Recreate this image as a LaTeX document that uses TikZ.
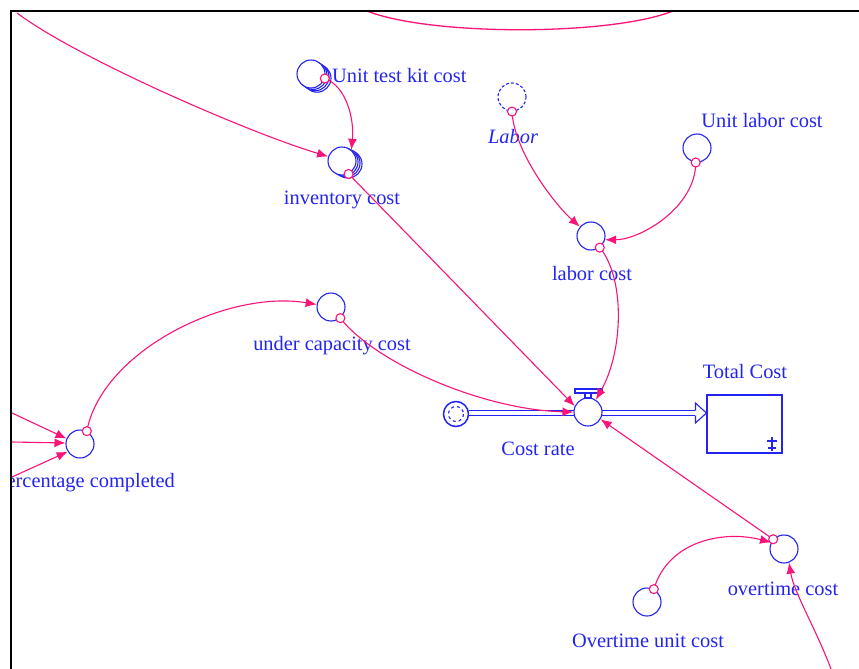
\documentclass[tikz,border=0pt]{standalone}
\usepackage{fontspec}
\setmainfont{Liberation Serif}
\usetikzlibrary{arrows.meta,calc}
\definecolor{vblue}{RGB}{36,36,240}
\definecolor{vpink}{RGB}{250,20,120}

\begin{document}
\begin{tikzpicture}[x=1pt,y=-1pt,
  every node/.style={font=\fontsize{20.4}{24}\selectfont, text=vblue},
  aux/.style={circle, draw=vblue, line width=1.1pt, minimum size=28pt, inner sep=0pt, fill=white},
  ghost/.style={aux, dash pattern=on 3pt off 2pt},
  stackc/.style={draw=vblue, line width=1.1pt, fill=white},
  lbl/.style={inner sep=0pt},
  link/.style={draw=vpink, line width=1.1pt, -{Latex[length=11pt,width=9pt]}},
  plain/.style={draw=vpink, line width=1.3pt},
  tailc/.style={draw=vpink, line width=1.1pt, fill=white},
  pipe/.style={draw=vblue, line width=1.1pt, double=white, double distance=4pt},
]
\useasboundingbox (0,0) rectangle (859,669);
\fill[white] (0,0) rectangle (859,669);

\begin{scope}
\clip (12,12) rectangle (859,669);

% array variables are drawn as a stack of circles
\foreach \d in {6,4,2} \draw[stackc] (311+\d,74+0.7*\d) circle (14);
\node[aux] (utk) at (311,74) {};
\foreach \d in {6,4,2} \draw[stackc] (342+\d,161+0.5*\d) circle (14);
\node[aux] (inv) at (342,161) {};

% auxiliaries
\node[ghost] (labor) at (512,97) {};
\node[aux] (ulc) at (697,148) {};
\node[aux] (lc) at (591,236) {};
\node[aux] (uc) at (331,307) {};
\node[aux] (pc) at (80,444) {};
\node[aux] (ot) at (784,549) {};
\node[aux] (otu) at (647,602) {};

% flow: source cloud, pipe, valve, stock
\node[circle, draw=vblue, line width=1.5pt, minimum size=25pt, inner sep=0pt] (cloud) at (456,414) {};
\draw[vblue, line width=1.1pt, dash pattern=on 3pt off 3pt] (cloud.center) circle (7.5);
\node[draw=vblue, line width=1.1pt, minimum width=75pt, minimum height=58pt, inner sep=0pt] (box) at (744.5,424) {};
\coordinate (pipeend) at ($(box.west|-588,413)+(-11,0)$);
\draw[pipe] (cloud.east|-456,413) -- (pipeend);
\node[aux] (valve) at (588,412) {};
\draw[vblue, line width=1.1pt] (575,389) rectangle (602,393);
\draw[vblue, line width=1.1pt] (585,393) rectangle (591,398);
\draw[vblue, line width=1.1pt, fill=white] ($(pipeend)+(0,-2.5)$) -- ($(pipeend)+(0,-10)$) -- (box.west|-588,413) -- ($(pipeend)+(0,10)$) -- ($(pipeend)+(0,2.5)$);
% stock sign
\draw[vblue, line width=1.1pt] (767,441) -- (777,441) (772,437) -- (772,451) (768,448) -- (776,448);

% labels
\node[lbl, anchor=west] (tutk) at (332,76) {Unit test kit cost};
\node[lbl] (tinv) at (342,200) {inventory cost};
\node[lbl] (tlabor) at (513,137) {\itshape Labor};
\node[lbl] (tulc) at (762,121) {Unit labor cost};
\node[lbl] (tlc) at (592,274) {labor cost};
\node[lbl] (tuc) at (332,346) {under capacity cost};
\node[lbl] (tvalve) at (538,449) {Cost rate};
\node[lbl] (tbox) at (745,372) {Total Cost};
\node[lbl, anchor=east] (tpc) at (175,483) {Percentage completed};
\node[lbl] (tot) at (783,589) {overtime cost};
\node[lbl] (totu) at (648,641) {Overtime unit cost};

% free ends of links coming from outside the view
\coordinate (arcL) at (367,11);
\coordinate (arcR) at (673,11);
\coordinate (tl) at (17,13);
\coordinate (in1) at (12,413);
\coordinate (in2) at (12,442);
\coordinate (in3) at (12,477);
\coordinate (br) at (831,669);

% links
\draw[plain] (arcL) .. controls (430,36) and (610,36) .. (arcR);
\draw[link] (tl) .. controls +(60,45) and +(-80,-24) .. (inv.162);
\draw[link] (utk.-18) .. controls +(22,8) and +(3,-30) .. (inv.50);
\draw[link] (inv.-63) -- (valve.156);
\draw[link] (labor.-90) .. controls +(2,40) and +(-25,-22) .. (lc.140);
\draw[link] (ulc.-95) .. controls +(0,45) and +(35,0) .. (lc.-15);
\draw[link] (lc.-53) .. controls +(25,30) and +(28,-50) .. (valve.57);
\draw[link] (pc.62) .. controls +(15,-80) and +(-90,-15) .. (uc.170);
\draw[link] (uc.-50) .. controls +(35,45) and +(-90,-2) .. (valve.180);
\draw[link] (in1) -- (pc.158);
\draw[link] (in2) -- (pc.176);
\draw[link] (in3) -- (pc.-148);
\draw[link] (otu.62) .. controls +(15,-50) and +(-45,-12) .. (ot.153);
\draw[link] (ot.138) -- (valve.-30);
\draw[link] (br) .. controls +(-15,-40) and +(5,30) .. (ot.-70);

% link tails
\foreach \a in {utk.-18, inv.-63, labor.-90, ulc.-95, lc.-53, uc.-50, pc.62, otu.62, ot.138}
  \draw[tailc] (\a) circle (4.5);
\end{scope}

% frame
\draw[black, line width=2pt] (11,669) -- (11,11) -- (859,11);
\end{tikzpicture}
\end{document}
